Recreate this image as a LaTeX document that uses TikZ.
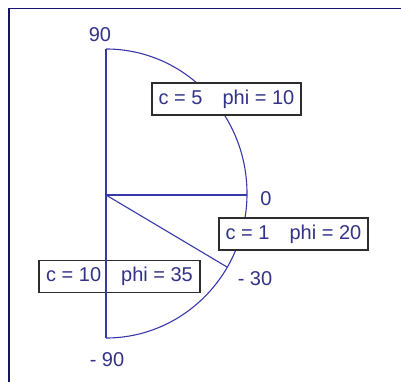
\documentclass[tikz,border=0pt]{standalone}
\usepackage{fontspec}
\setmainfont{Liberation Sans}
\usetikzlibrary{positioning}
\definecolor{framenavy}{RGB}{20, 20, 110}
\definecolor{plotblue}{RGB}{55, 55, 170}
\definecolor{labelblue}{RGB}{50, 50, 135}
\definecolor{boxgray}{RGB}{45, 45, 45}

\begin{document}
\begin{tikzpicture}[
    x=1pt, y=-1pt,
    curve/.style={draw=plotblue, line width=1.1pt},
    anglelabel/.style={text=labelblue, font=\fontsize{20}{20}\selectfont, inner sep=0pt},
    parambox/.style={draw=boxgray, fill=white, line width=1.2pt, text=labelblue, font=\fontsize{20}{20}\selectfont, inner sep=0pt, minimum height=32pt, align=center}
]
\useasboundingbox (0,0) rectangle (401,382);

% frame
\draw[framenavy, line width=1.6pt] (9,382) -- (9,8.5) -- (401,8.5);

% coordinates of the plot
\coordinate (centre) at (106,195);
\coordinate (top) at (106,49);
\coordinate (bottom) at (106,338);
\coordinate (zero) at (247,195);
\coordinate (minus30) at (227,267);

% lower box sits below the vertical line
\node[parambox, minimum width=161pt] (box35) at (119.5,276.5) {c = 10\hspace{1em}phi = 35};

\draw[curve] (bottom) -- (top);
\draw[curve] (top) arc[start angle=90, end angle=-90, x radius=141, y radius=-144.5];
\draw[curve] (centre) -- (zero);
\draw[curve] (centre) -- (minus30);

\node[parambox, minimum width=149pt] (box10) at (226.5,99) {c = 5\hspace{1em}phi = 10};
\node[parambox, minimum width=149pt] (box20) at (293.5,234) {c = 1\hspace{1em}phi = 20};

\node[anglelabel] (lab90) at (100,34.5) {90};
\node[anglelabel] (lab0) at (266,198.5) {0};
\node[anglelabel] (lab30) at (255,279) {- 30};
\node[anglelabel] (labm90) at (107,360) {- 90};
\end{tikzpicture}
\end{document}
